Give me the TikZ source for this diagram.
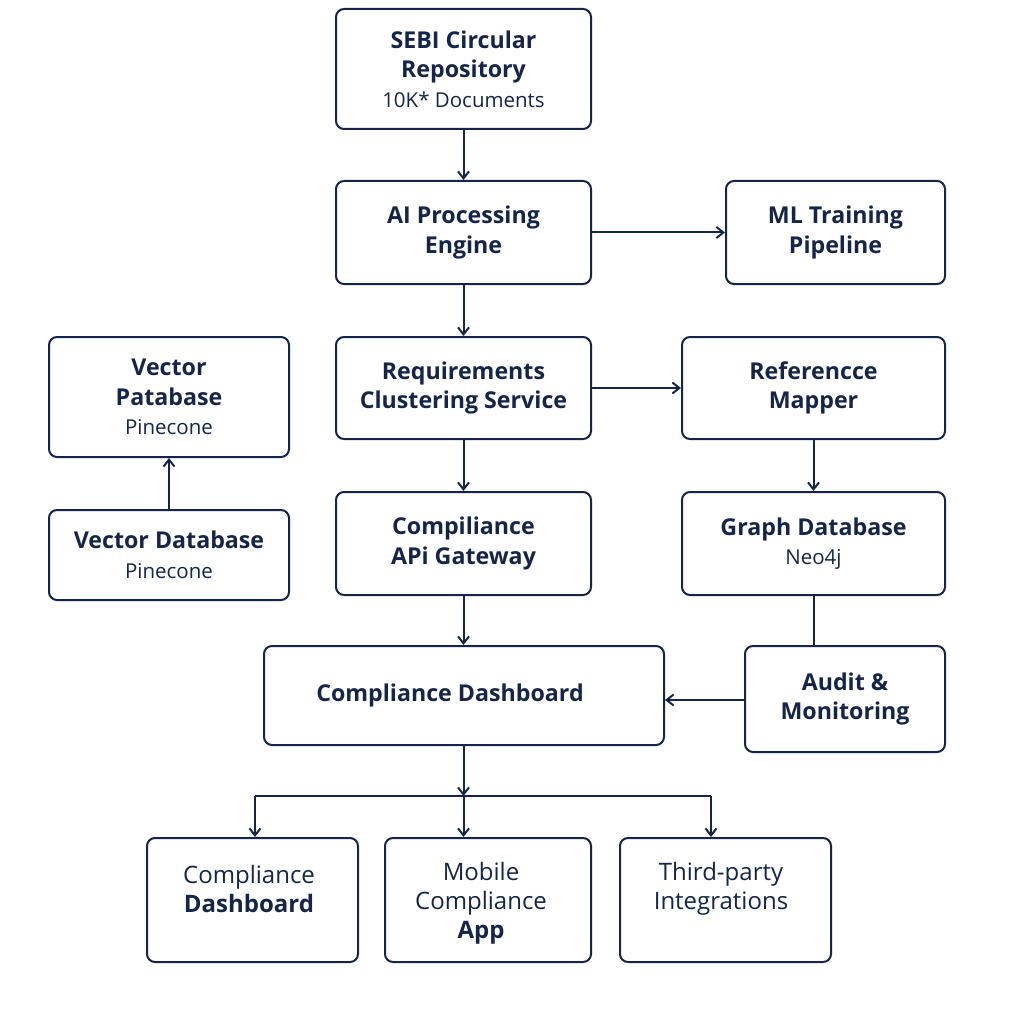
\documentclass[tikz,border=0pt]{standalone}
\usepackage{fontspec}
\setmainfont{Open Sans}
\usetikzlibrary{arrows.meta,calc}
\definecolor{navy}{HTML}{15254A}
\newcommand{\subt}{\fontsize{20.5}{30}\selectfont\mdseries}
\begin{document}
\begin{tikzpicture}[x=1pt,y=-1pt,
  box/.style={draw=navy,line width=2pt,rounded corners=8pt,fill=white,align=center,
    text=navy,inner sep=0pt,font=\fontsize{23.2}{29.5}\selectfont\bfseries},
  txt/.style={align=center,text=navy,inner sep=0pt,font=\fontsize{24}{29}\selectfont},
  conn/.style={draw=navy,line width=2pt,-{Straight Barb[length=7pt,width=11pt,line width=2pt]}},
  plain/.style={draw=navy,line width=2pt}]
\useasboundingbox[fill=white] (0,0) rectangle (1024,1024);

\node[box,minimum width=255,minimum height=120] (sebi) at (463.5,69) {SEBI Circular\\Repository\\{\subt 10K* Documents}};
\node[box,minimum width=255,minimum height=103] (ai) at (463.5,232.5) {AI Processing\\Engine};
\node[box,minimum width=219,minimum height=103] (ml) at (835.5,232.5) {ML Training\\Pipeline};
\node[box,minimum width=255,minimum height=102] (req) at (463.5,388) {Requirements\\Clustering Service};
\node[box,minimum width=263,minimum height=102] (ref) at (813.5,388) {Referencce\\Mapper};
\node[box,minimum width=240,minimum height=120] (vp) at (169,397) {Vector\\Patabase\\{\subt Pinecone}};
\node[box,minimum width=240,minimum height=90] (vd) at (169,555) {Vector Database\\{\subt Pinecone}};
\node[box,minimum width=255,minimum height=103] (api) at (463.5,543.5) {Compiliance\\APi Gateway};
\node[box,minimum width=263,minimum height=103] (gdb) at (813.5,543.5) {Graph Database\\{\subt Neo4j}};
\node[box,minimum width=400,minimum height=99] (dash) at (464,695.5) {Compliance Dashboard\hspace*{28pt}};
\node[box,minimum width=200,minimum height=106] (aud) at (845,699) {Audit \&\\Monitoring};
\node[box,minimum width=211,minimum height=124] (cd) at (252.5,900) {};
\node[box,minimum width=206,minimum height=124] (mob) at (488,900) {};
\node[box,minimum width=211,minimum height=124] (tp) at (725.5,900) {};
\node[txt] (cdt) at (249,889) {Compliance\\\textbf{Dashboard}};
\node[txt] (mobt) at (481,903) {Mobile\\Compliance\\\textbf{App}};
\node[txt] (tpt) at (721,889) {Third-party\\Integrations};

\draw[conn] (sebi) -- (ai);
\draw[conn] (ai) -- (ml);
\draw[conn] (ai) -- (req);
\draw[conn] (req) -- (ref);
\draw[conn] (ref) -- (gdb);
\draw[conn] (req) -- (api);
\draw[conn] (vd) -- (vp);
\draw[conn] (api) -- (api |- dash.north);
\draw[plain] (gdb.south) -- (gdb.south |- aud.north);
\draw[conn] (aud.west |- dash.east) ++(0,4.5) coordinate (aw) -- (aw -| dash.east);
\coordinate (j) at (463.5,796);
\coordinate (jl) at (255,796);
\coordinate (jr) at (711,796);
\draw[conn] (dash.south -| j) -- (j);
\draw[plain] (jl) -- (jr);
\draw[conn] (j) -- (j |- mob.north);
\draw[conn] (jl) -- (jl |- cd.north);
\draw[conn] (jr) -- (jr |- tp.north);
\end{tikzpicture}
\end{document}
